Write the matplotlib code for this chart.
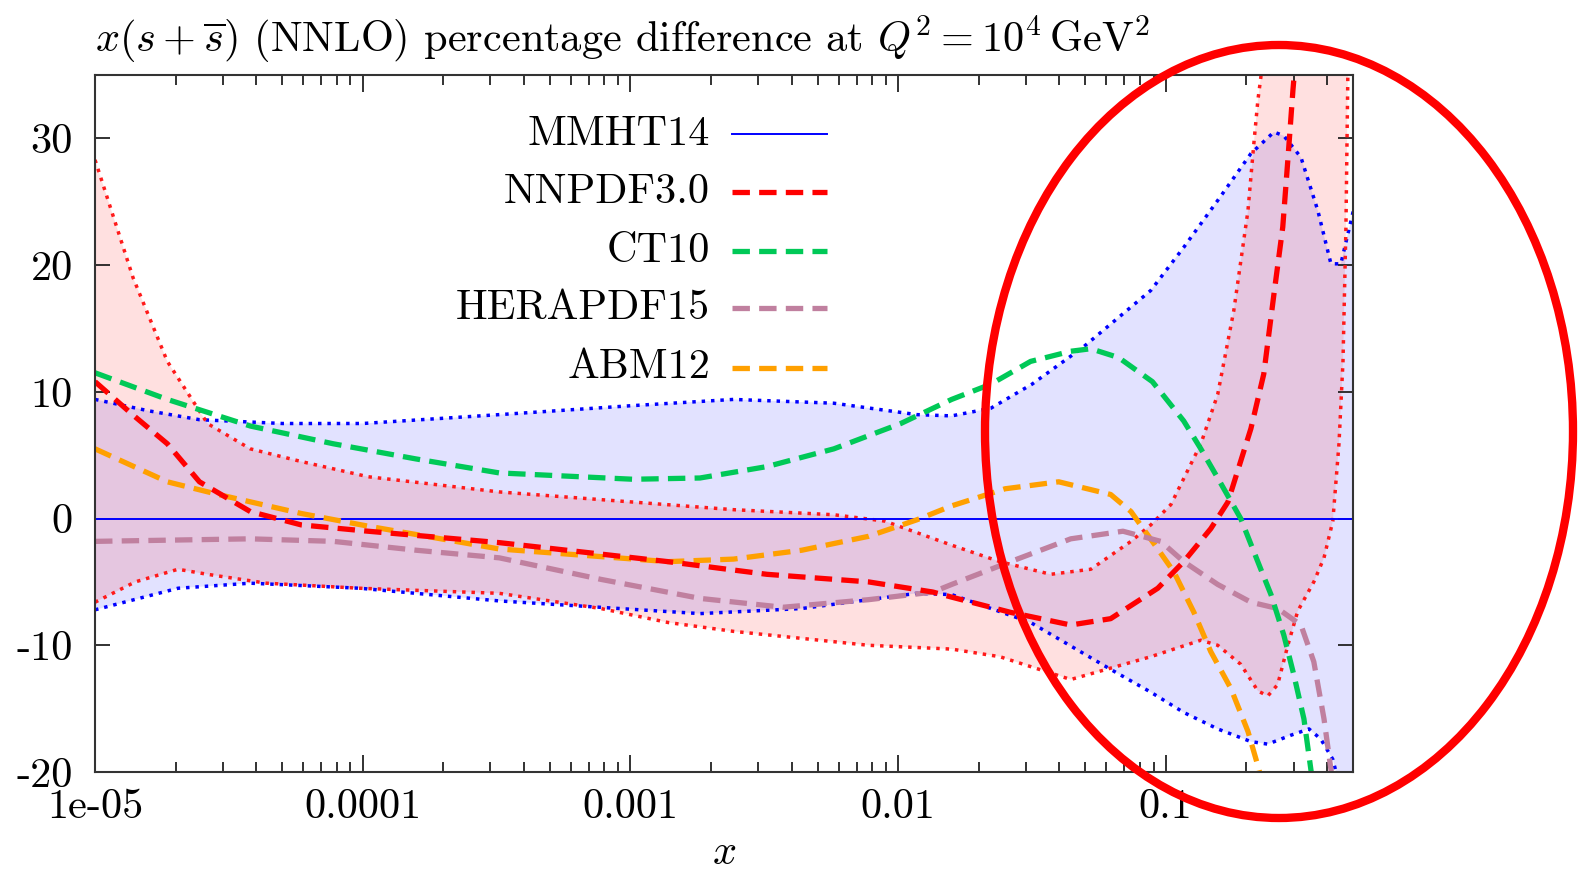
import numpy as np
import matplotlib
matplotlib.use('Agg')
import matplotlib.pyplot as plt
from matplotlib.patches import Ellipse
from matplotlib.ticker import NullFormatter

plt.rcParams['font.family'] = 'serif'
plt.rcParams['font.serif'] = ['cmr10']
plt.rcParams['mathtext.fontset'] = 'cm'
plt.rcParams['axes.formatter.use_mathtext'] = True

# values: log10(x) and percentage difference
mmht_up_lx = [-5.0, -4.8, -4.61, -4.3, -4.0, -3.49, -3.0, -2.615, -2.24, -1.93, -1.8, -1.654,
              -1.5, -1.31, -1.056, -0.933, -0.806, -0.682, -0.596, -0.559, -0.495, -0.432,
              -0.383, -0.346, -0.308, -0.297]
mmht_up = [9.4, 8.5, 7.8, 7.5, 7.5, 8.2, 8.9, 9.4, 9.1, 8.2, 8.1, 8.7,
           10.6, 13.5, 18.0, 21.4, 25.1, 28.8, 30.5, 30.2, 28.5, 24.3,
           20.1, 20.1, 23.5, 24.5]
mmht_lo_lx = [-5.0, -4.69, -4.42, -4.01, -3.49, -2.74, -2.36, -1.93, -1.8, -1.505, -1.206,
              -1.056, -0.933, -0.806, -0.682, -0.619, -0.533, -0.465, -0.421, -0.376, -0.364,
              -0.297]
mmht_lo = [-7.2, -5.5, -5.1, -5.5, -6.5, -7.5, -7.1, -5.9, -6.0, -8.2, -11.9,
           -13.7, -15.3, -16.6, -17.6, -17.8, -17.1, -16.6, -17.4, -19.0, -20.0,
           -28.0]

nnpdf_up_lx = [-5.0, -4.858, -4.73, -4.58, -4.42, -4.23, -3.98, -3.49, -2.615, -2.24, -2.05,
               -1.8, -1.62, -1.43, -1.28, -1.13, -1.056, -0.981, -0.869, -0.806, -0.746,
               -0.693, -0.671, -0.656, -0.645, -0.64]
nnpdf_up = [28.3, 19.0, 12.4, 7.5, 5.5, 4.5, 3.3, 2.1, 0.7, 0.3, -0.2,
            -2.1, -3.4, -4.4, -4.0, -1.8, -0.5, 1.1, 5.9, 9.8, 16.4,
            24.3, 29.6, 33.0, 34.8, 36.0]
nnpdf_lo_lx = [-5.0, -4.85, -4.69, -4.58, -4.36, -4.01, -3.49, -3.11, -2.86, -2.615, -2.11,
               -1.8, -1.62, -1.355, -1.056, -0.869, -0.806, -0.72, -0.656, -0.619, -0.582,
               -0.544, -0.507, -0.447, -0.409, -0.376, -0.353, -0.338, -0.327, -0.32, -0.317]
nnpdf_lo = [-6.6, -5.0, -4.0, -4.4, -5.1, -5.5, -5.9, -7.1, -8.2, -8.9, -10.0,
            -10.3, -10.9, -12.7, -10.9, -9.6, -10.0, -11.5, -13.6, -14.0, -13.1,
            -10.0, -7.3, -5.0, -3.1, -0.2, 5.9, 12.4, 23.0, 34.8, 36.0]
nnpdf_lx = [-5.0, -4.86, -4.73, -4.61, -4.42, -4.23, -3.98, -3.49, -2.86, -2.49, -2.11, -1.87,
            -1.8, -1.58, -1.355, -1.206, -1.03, -0.933, -0.832, -0.768, -0.682, -0.634,
            -0.596, -0.563, -0.544, -0.525, -0.51]
nnpdf = [10.8, 8.2, 5.9, 2.9, 0.55, -0.5, -1.0, -1.9, -3.4, -4.4, -5.0, -5.8,
         -6.2, -7.4, -8.4, -7.9, -5.5, -3.4, -0.8, 1.3, 7.1, 11.4,
         17.7, 23.0, 28.3, 33.8, 37.5]
ct10_lx = [-5.0, -4.73, -4.42, -4.11, -3.8, -3.49, -2.99, -2.74, -2.49, -2.24, -1.99, -1.8,
           -1.654, -1.505, -1.355, -1.28, -1.176, -1.05, -0.933, -0.869, -0.806, -0.72,
           -0.645, -0.607, -0.559, -0.522, -0.484, -0.458, -0.45]
ct10 = [11.5, 9.4, 7.3, 5.9, 4.7, 3.6, 3.1, 3.2, 4.1, 5.5, 7.5, 9.4,
        10.6, 12.4, 13.2, 13.4, 12.7, 10.8, 7.7, 5.5, 3.2, 0.0,
        -4.0, -6.0, -9.2, -12.3, -15.8, -19.8, -21.0]
hera_lx = [-5.0, -4.42, -4.11, -3.8, -3.49, -3.11, -2.74, -2.43, -2.11, -1.87, -1.8, -1.58,
           -1.355, -1.16, -1.019, -0.933, -0.806, -0.682, -0.582, -0.495, -0.447, -0.409,
           -0.383, -0.375]
hera = [-1.8, -1.6, -1.8, -2.5, -3.1, -4.8, -6.3, -7.0, -6.4, -5.8, -5.2, -3.4,
        -1.6, -1.0, -1.8, -3.4, -5.2, -6.6, -7.1, -8.4, -11.3, -15.8,
        -19.8, -21.0]
abm_lx = [-5.0, -4.73, -4.54, -4.23, -3.98, -3.49, -2.86, -2.615, -2.36, -2.11, -1.93, -1.8,
          -1.6, -1.4, -1.206, -1.13, -1.03, -0.97, -0.895, -0.832, -0.757, -0.693, -0.656,
          -0.64]
abm = [5.5, 2.9, 1.9, 0.4, -0.6, -2.4, -3.4, -3.2, -2.5, -1.4, -0.1, 1.0,
       2.35, 2.9, 1.9, 0.55, -2.4, -4.2, -7.4, -10.5, -13.4, -16.8, -19.5,
       -20.8]

labels = ['MMHT14', 'NNPDF3.0', 'CT10', 'HERAPDF15', 'ABM12']
colors = ['#0000ff', '#ff0000', '#00c957', '#c0809f', '#ffa000']
xticks = [1e-5, 1e-4, 1e-3, 1e-2, 1e-1]
xticklabels = ['1e-05', '0.0001', '0.001', '0.01', '0.1']
yticks = [-20, -10, 0, 10, 20, 30]


def X(lx):
    return 10 ** np.array(lx)


fig = plt.figure(figsize=(15.79, 8.81), dpi=100)
ax = fig.add_axes([0.0602, 0.1237, 0.7966, 0.7912])

# uncertainty bands
ax.fill(np.concatenate([X(mmht_up_lx), X(mmht_lo_lx)[::-1]]),
        np.concatenate([mmht_up, mmht_lo[::-1]]), color='#0000ff', alpha=0.115, lw=0)
ax.fill(np.concatenate([X(nnpdf_up_lx), X(nnpdf_lo_lx)[::-1]]),
        np.concatenate([nnpdf_up, nnpdf_lo[::-1]]), color='#ff0000', alpha=0.12, lw=0)

dot = dict(ls=(0, (1, 1.7)), lw=2.5, dash_capstyle='butt')
ax.plot(X(mmht_up_lx), mmht_up, color='#0000ff', **dot)
ax.plot(X(mmht_lo_lx), mmht_lo, color='#0000ff', **dot)
ax.plot(X(nnpdf_up_lx), nnpdf_up, color='#ff1a1a', **dot)
ax.plot(X(nnpdf_lo_lx), nnpdf_lo, color='#ff1a1a', **dot)

ax.axhline(0, color=colors[0], lw=1.4)
dash = dict(ls=(0, (3.3, 1.75)), lw=3.8)
ax.plot(X(abm_lx), abm, color=colors[4], **dash)
ax.plot(X(hera_lx), hera, color=colors[3], **dash)
ax.plot(X(ct10_lx), ct10, color=colors[2], **dash)
ax.plot(X(nnpdf_lx), nnpdf, color=colors[1], **dash)

ax.set_xscale('log')
ax.set_xlim(1e-5, 0.5)
ax.set_ylim(-20, 35)
ax.set_xticks(xticks, xticklabels)
ax.xaxis.set_minor_formatter(NullFormatter())
ax.set_yticks(yticks, [str(v) for v in yticks])
ax.tick_params(which='both', direction='in', top=True, right=True, labelsize=30.5,
               color='#222222', width=1.3)
ax.tick_params(axis='x', which='major', length=12, pad=12)
ax.tick_params(axis='x', which='minor', length=7)
ax.tick_params(axis='y', which='major', length=11, pad=16)
for s in ax.spines.values():
    s.set_linewidth(1.5)
    s.set_color('#333333')

ax.set_title(r'$x(s+\overline{s})$ (NNLO) percentage difference at $Q^2 = 10^4\,\mathrm{GeV}^2$',
             loc='left', fontsize=30.5, pad=17)
ax.set_xlabel(r'$x$', fontsize=30.5, labelpad=6)

# key: text right-aligned, sample line to the right
key_y = [0.915, 0.832, 0.747, 0.665, 0.580]
for i, (lab, c) in enumerate(zip(labels, colors)):
    ax.text(0.489, key_y[i], lab, transform=ax.transAxes, ha='right', va='center', fontsize=30.5)
    if i == 0:
        ax.plot([0.506, 0.582], [key_y[i]] * 2, transform=ax.transAxes, color=c, lw=1.4)
    else:
        ax.plot([0.506, 0.582], [key_y[i]] * 2, transform=ax.transAxes, color=c, **dash)

# red highlight ellipse
fig.add_artist(Ellipse((1279 / 1579, 1 - 431.5 / 881), 588 / 1579, 773 / 881,
                       transform=fig.transFigure, fill=False, ec='#ff0000', lw=6))

fig.savefig('out.png', dpi=100)
